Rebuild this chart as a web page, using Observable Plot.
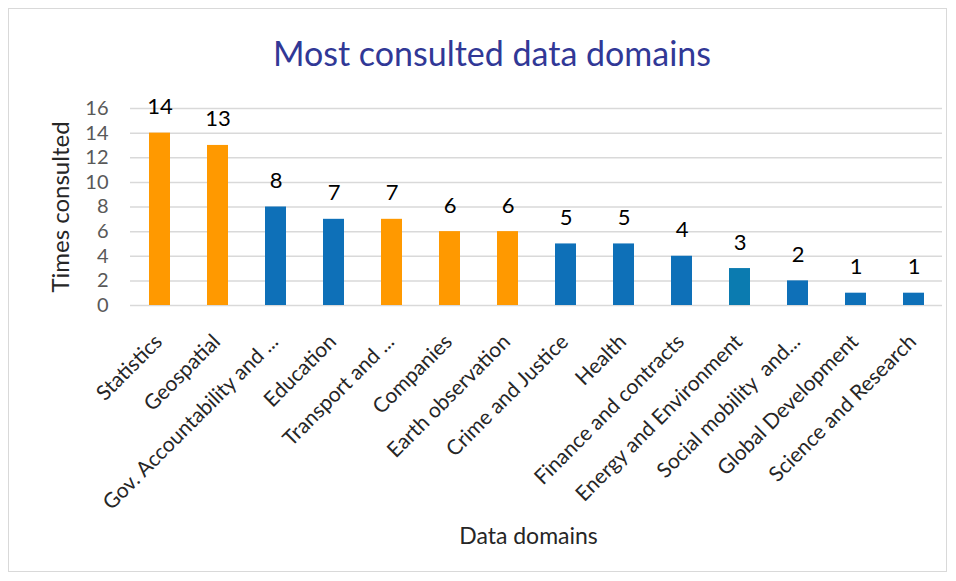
<!DOCTYPE html>
<html>
<head>
<meta charset="utf-8">
<script src="https://cdn.jsdelivr.net/npm/d3@7"></script>
<script src="https://cdn.jsdelivr.net/npm/@observablehq/plot@0.6"></script>
<style>
  body { margin: 0; background: #fff; }
  #wrap { position: relative; width: 956px; height: 581px; overflow: hidden; font-family: Lato, "Open Sans", sans-serif; }
  #frame { position: absolute; left: 8px; top: 8px; width: 939px; height: 564px; border: 1px solid #d9d9d9; box-sizing: border-box; }
  #title { position: absolute; left: 0; width: 984px; top: 32px; text-align: center; font-size: 34px; color: #313896; font-family: Lato, sans-serif; }
  #chart { position: absolute; left: 0; top: 0; }
</style>
</head>
<body>
<div id="wrap">
  <div id="frame"></div>
  <div id="chart"></div>
  <div id="title">Most consulted data domains</div>
</div>
<script>
const categories = ["Statistics", "Geospatial", "Gov. Accountability and ...", "Education", "Transport and ...", "Companies", "Earth observation", "Crime and Justice", "Health", "Finance and contracts", "Energy and Environment", "Social mobility  and...", "Global Development", "Science and Research"];
const values = [14, 13, 8, 7, 7, 6, 6, 5, 5, 4, 3, 2, 1, 1];
const groups = ["G1", "G1", "G2", "G2", "G1", "G1", "G1", "G2", "G2", "G2", "G3", "G2", "G2", "G2"];
const yTicks = [0, 2, 4, 6, 8, 10, 12, 14, 16];

const data = categories.map((c, i) => ({category: c, value: values[i], group: groups[i]}));

const chart = Plot.plot({
  width: 956,
  height: 581,
  marginLeft: 130,
  marginRight: 14,
  marginTop: 108,
  marginBottom: 276,
  style: {fontFamily: "Lato, 'Open Sans', sans-serif", background: "transparent", overflow: "visible"},
  x: {domain: categories, paddingInner: 0.64, paddingOuter: 0.32, axis: null},
  y: {domain: [0, 16], ticks: yTicks, axis: null},
  color: {domain: ["G1", "G2", "G3"], range: ["#FF9900", "#0E70B8", "#0B7BB0"]},
  marks: [
    Plot.gridY(yTicks, {stroke: "#d9d9d9", strokeOpacity: 1, strokeWidth: 1.5}),
    Plot.axisY(yTicks, {tickSize: 0, tickPadding: 22, fontSize: 20, color: "#595959", label: null}),
    Plot.barY(data, {x: "category", y: "value", fill: "group"}),
    Plot.text(data, {x: "category", y: "value", text: d => String(d.value), dy: -26, lineAnchor: "middle", fontSize: 22, fill: "#000"}),
    Plot.text(data, {x: "category", text: "category", frameAnchor: "bottom", rotate: -45, textAnchor: "end", lineAnchor: "top", dx: -7, dy: 27, fontSize: 21, fill: "#262626"}),
    Plot.text(["Times consulted"], {frameAnchor: "left", textAnchor: "middle", lineAnchor: "middle", dx: -69, rotate: -90, fontSize: 24, fill: "#262626"}),
    Plot.text(["Data domains"], {frameAnchor: "bottom", textAnchor: "middle", lineAnchor: "middle", dx: -8, dy: 231, fontSize: 23, fill: "#262626"})
  ]
});
document.getElementById("chart").appendChild(chart);
</script>
</body>
</html>
